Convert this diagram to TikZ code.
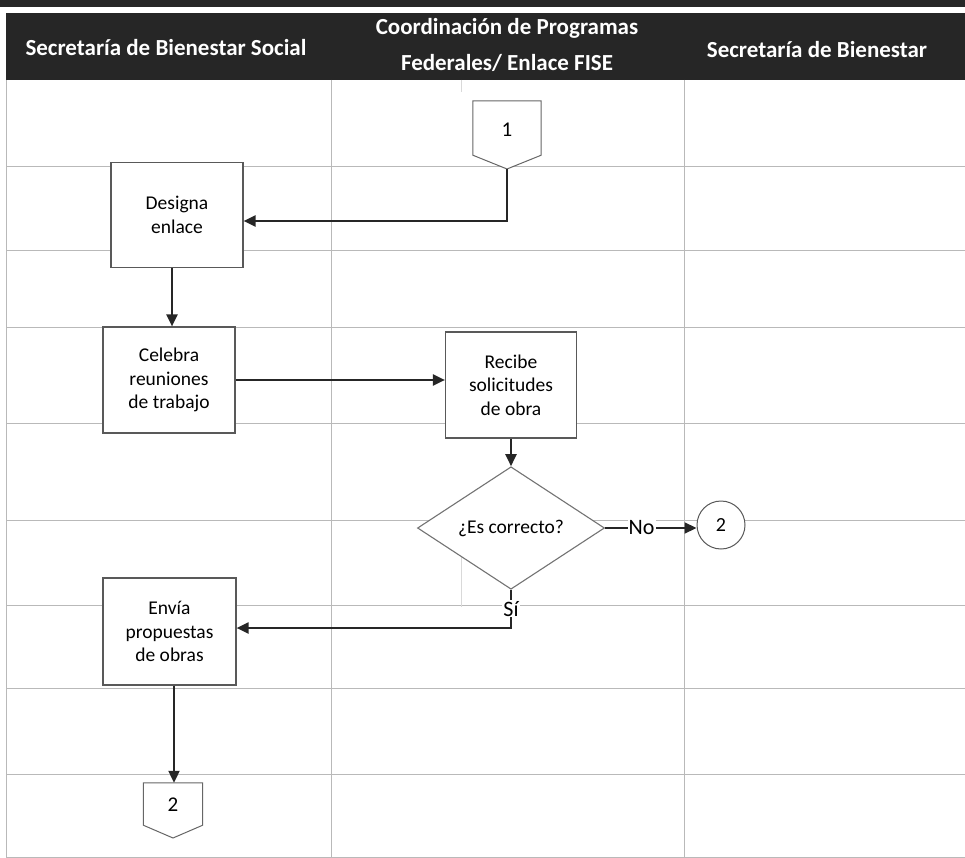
\documentclass[tikz,border=0pt]{standalone}
\usepackage{fontspec}
\setmainfont{Carlito}
\usetikzlibrary{arrows.meta,shapes.geometric}
\begin{document}
\begin{tikzpicture}[x=1pt,y=-1pt,
  gridline/.style={draw=gray!55, line width=0.9pt},
  procbox/.style={draw=black!65, line width=1.2pt, fill=white, align=center,
    font=\fontsize{19.5}{23.3}\selectfont, inner sep=0pt},
  flow/.style={draw=black!85, line width=2.1pt, -{Triangle[length=12pt,width=11pt]}},
  hdr/.style={text=white, font=\bfseries\fontsize{23}{28}\selectfont, inner sep=0pt},
  lbl/.style={fill=white, inner sep=1pt, font=\fontsize{22}{24}\selectfont},
  pent/.style={draw=black!60, line width=1pt, fill=white},
  pentxt/.style={inner sep=0pt, font=\fontsize{21}{24}\selectfont}
]
\useasboundingbox (0,0) rectangle (965,858);
% header
\fill[black!85] (0,0) rectangle (965,7);
\fill[black!85] (6,13) rectangle (965,80);
\node[hdr] (h1) at (166,48) {Secretaría de Bienestar Social};
\node[hdr] (h2a) at (507,28) {Coordinación de Programas};
\node[hdr] (h2b) at (507,63) {Federales/ Enlace FISE};
\node[hdr] (h3) at (817,50) {Secretaría de Bienestar};
% grid
\foreach \y in {166,250,327,423,520,605,688,774,857} \draw[gridline] (6,\y) -- (965,\y);
\foreach \x in {6,331,684} \draw[gridline] (\x,80) -- (\x,857);
\draw[gridline, draw=gray!30] (461,80) -- (461,92);
\draw[gridline, draw=gray!30] (461,520) -- (461,607);
% connector 1
\node[pentxt, minimum width=68pt, minimum height=54pt] (c1) at (507,128) {};
\coordinate (c1tip) at (507,169);
\draw[pent] (c1.north west) -- (c1.north east) -- (c1.south east) -- (c1tip) -- (c1.south west) -- cycle;
\node[pentxt] (c1t) at (507,130) {1};
% process boxes
\node[procbox, minimum width=132pt, minimum height=105pt] (designa) at (177,215) {Designa\\enlace};
\node[procbox, minimum width=132pt, minimum height=106pt] (celebra) at (169,380) {Celebra\\reuniones\\de trabajo};
\node[procbox, minimum width=131pt, minimum height=106pt] (recibe) at (511,385) {Recibe\\solicitudes\\de obra};
\node[procbox, minimum width=133pt, minimum height=107pt] (envia) at (169.5,631.5) {Envía\\propuestas\\de obras};
% decision
\node[diamond, draw=black!55, line width=1.1pt, fill=white, minimum width=187pt, minimum height=81pt,
  inner sep=0pt, font=\fontsize{19.5}{23}\selectfont] (dia) at (511,528) {¿Es correcto?};
\node[circle, draw=black!65, line width=1pt, fill=white, minimum size=48pt, inner sep=0pt,
  font=\fontsize{20}{22}\selectfont] (c2r) at (721,525) {2};
% connector 2 (off page)
\node[pentxt, minimum width=59pt, minimum height=42pt] (c2) at (173,804) {};
\coordinate (c2tip) at (173,838);
\draw[pent] (c2.north west) -- (c2.north east) -- (c2.south east) -- (c2tip) -- (c2.south west) -- cycle;
\node[pentxt] (c2t) at (173,805) {2};
% flows
\coordinate (d1) at (507,221);
\draw[flow] (c1tip) -- (d1) -- (d1 -| designa.east);
\coordinate (ax) at (172,0);
\draw[flow] (designa.south -| ax) -- (celebra.north -| ax);
\draw[flow] (celebra.east) -- (celebra.east -| recibe.west);
\draw[flow] (recibe.south) -- (dia.north);
\draw[flow] (dia.east) -- node[lbl, pos=0.4] {No} (dia.east -| c2r.west);
\coordinate (s1) at (511,628);
\draw[flow] (dia.south) -- node[lbl] {Sí} (s1) -- (s1 -| envia.east);
\coordinate (ax2) at (174,0);
\draw[flow] (envia.south -| ax2) -- (c2.north -| ax2);
\end{tikzpicture}
\end{document}
